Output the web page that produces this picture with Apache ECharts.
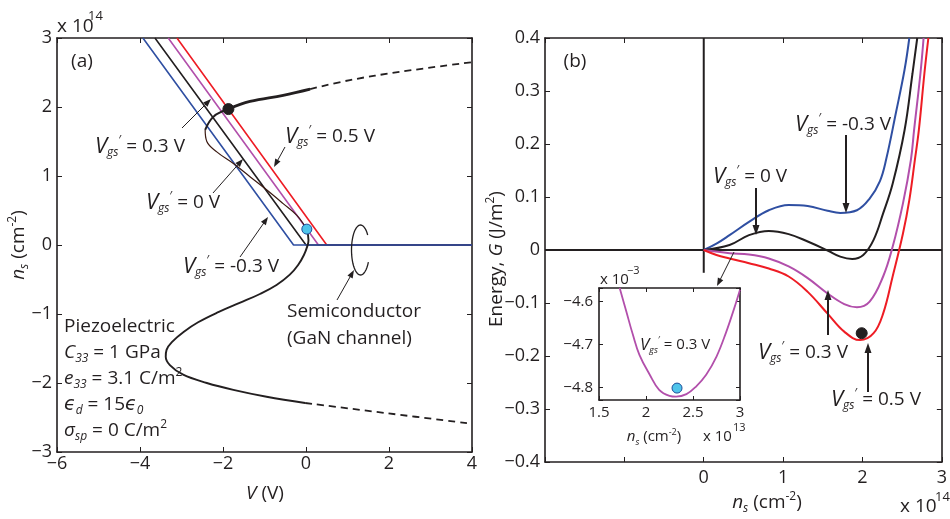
<!DOCTYPE html>
<html><head><meta charset="utf-8">
<script src="https://cdn.jsdelivr.net/npm/echarts@6/dist/echarts.min.js"></script>
<style>html,body{margin:0;padding:0;background:#fff}#c{width:950px;height:519px}</style>
</head><body><div id="c"></div>
<script>
// ---------- data ----------
// Panel (a): semiconductor lines n_s(V) for V_gs' = -0.3, 0, 0.3, 0.5 V  [V, n_s/1e14]
const semiBlue    = [[-3.93, 3], [-0.3, 0], [4, 0]];
const semiBlack   = [[-3.64, 3], [0.0, 0], [4, 0]];
const semiMagenta = [[-3.32, 3], [0.3, 0], [4, 0]];
const semiRed     = [[-3.11, 3], [0.5, 0], [4, 0]];
// Panel (a): piezoelectric S-curve [V, n_s/1e14]
const piezoUpper     = [[-1.87, 1.97], [-1.35, 2.08], [-0.55, 2.17], [0.1, 2.26]];
const piezoUpperDash = [[0.1, 2.26], [1.06, 2.39], [2.27, 2.51], [4.0, 2.65]];
const piezoLoopA     = [[-1.87, 1.97], [-2.23, 1.86], [-2.43, 1.67]];
const piezoLoopB     = [[-2.43, 1.67], [-2.39, 1.50], [-2.15, 1.35], [-1.75, 1.18], [-1.35, 0.99], [-0.95, 0.80], [-0.55, 0.60], [-0.22, 0.43], [-0.02, 0.27], [0.02, 0.23]];
const piezoLower     = [[0.02, 0.23], [0.06, 0.07], [0.03, -0.02], [-0.05, -0.145], [-0.19, -0.29], [-0.39, -0.43], [-0.71, -0.58], [-1.11, -0.71], [-1.6, -0.84], [-2.1, -0.97], [-2.6, -1.12], [-2.95, -1.26], [-3.22, -1.40], [-3.36, -1.52], [-3.38, -1.62], [-3.28, -1.74], [-2.96, -1.88], [-2.39, -2.00], [-1.75, -2.10], [-0.95, -2.20], [-0.02, -2.29]];
const piezoLowerDash = [[-0.02, -2.29], [1.98, -2.44], [4.0, -2.59]];
const dotBlackA = [[-1.87, 1.97]];
const dotBlueA  = [[0.02, 0.23]];
// Panel (b): energy G(n_s) [n_s/1e14, G J/m^2]
const gBlue    = [[0, 0], [0.16, 0.012], [0.325, 0.028], [0.57, 0.053], [0.82, 0.075], [1.07, 0.085], [1.31, 0.083], [1.56, 0.074], [1.72, 0.070], [1.93, 0.075], [2.09, 0.097], [2.22, 0.13], [2.30, 0.172], [2.42, 0.258], [2.53, 0.34], [2.59, 0.4]];
const gBlack   = [[0, 0], [0.325, 0.0094], [0.57, 0.028], [0.82, 0.036], [1.07, 0.030], [1.31, 0.016], [1.56, -0.001], [1.72, -0.0126], [1.87, -0.017], [2.01, -0.0094], [2.14, 0.019], [2.26, 0.069], [2.38, 0.125], [2.53, 0.226], [2.63, 0.333], [2.69, 0.4]];
const gMagenta = [[0, 0], [0.325, -0.006], [0.57, -0.0085], [0.82, -0.016], [1.07, -0.031], [1.31, -0.053], [1.56, -0.082], [1.77, -0.102], [1.93, -0.108], [2.09, -0.0975], [2.26, -0.05], [2.38, 0.006], [2.51, 0.088], [2.61, 0.17], [2.65, 0.226], [2.73, 0.333], [2.77, 0.4]];
const gRed     = [[0, 0], [0.16, -0.0094], [0.325, -0.016], [0.57, -0.025], [0.82, -0.035], [1.07, -0.050], [1.31, -0.079], [1.56, -0.12], [1.77, -0.154], [1.97, -0.170], [2.14, -0.157], [2.26, -0.12], [2.38, -0.05], [2.51, 0.031], [2.59, 0.094], [2.66, 0.17], [2.71, 0.226], [2.78, 0.333], [2.83, 0.4]];
const zeroH = [[-2, 0], [3, 0]];
const zeroV = [[0, -0.043], [0, 0.4]];
const dotBlackB = [[1.99, -0.157]];
// Inset: G(n_s) for V_gs' = 0.3 V  [n_s/1e13, G/1e-3]
const insetMagenta = [[1.72, -4.569], [1.79, -4.623], [1.86, -4.677], [1.93, -4.724], [2.04, -4.770], [2.14, -4.805], [2.25, -4.819], [2.32, -4.821], [2.43, -4.815], [2.53, -4.798], [2.64, -4.770], [2.75, -4.728], [2.85, -4.673], [2.94, -4.615], [3.0, -4.573]];
const insetDot = [[2.33, -4.801]];
// Tick labels
const aXTicks = [-6, -4, -2, 0, 2, 4],      aXLabels = ['−6', '−4', '−2', '0', '2', '4'];
const aYTicks = [-3, -2, -1, 0, 1, 2, 3],   aYLabels = ['−3', '−2', '−1', '0', '1', '2', '3'];
const bXTicks = [0, 1, 2, 3],               bXLabels = ['0', '1', '2', '3'];
const bYTicks = [-0.4, -0.3, -0.2, -0.1, 0, 0.1, 0.2, 0.3, 0.4];
const bYLabels = ['−0.4', '−0.3', '−0.2', '−0.1', '0', '0.1', '0.2', '0.3', '0.4'];
const iXTicks = [1.5, 2, 2.5, 3],           iXLabels = ['1.5', '2', '2.5', '3'];
const iYTicks = [-4.8, -4.7, -4.6],         iYLabels = ['−4.8', '−4.7', '−4.6'];

// ---------- styling ----------
const F = '"Open Sans","DejaVu Sans",sans-serif';
const C = '#231f20';
const BLUE = '#2f4fa2', MAG = '#b24fab', RED = '#ee1c24';

function fmtFrom(ticks, labels) {
  return function (v) {
    for (let i = 0; i < ticks.length; i++) if (Math.abs(ticks[i] - v) < 1e-6) return labels[i];
    return '';
  };
}
function axis(grid, pos, min, max, opt) {
  opt = opt || {};
  const a = {
    type: 'value', gridIndex: grid, position: pos, min: min, max: max,
    axisLine: { show: true, onZero: false, lineStyle: { color: C, width: opt.lw || 1.6 } },
    axisTick: { show: true, inside: true, length: opt.tl || 5, lineStyle: { color: C, width: 1 } },
    axisLabel: opt.fmt ? { show: true, formatter: opt.fmt, fontFamily: F, fontSize: opt.fs || 18, color: C, margin: opt.margin || 6 } : { show: false },
    splitLine: { show: false }
  };
  if (opt.interval !== undefined) a.interval = opt.interval;
  if (opt.split) { a.splitNumber = opt.split; a.minInterval = opt.mi; a.maxInterval = opt.mi; }
  return a;
}
function ln(data, xi, yi, color, width, extra) {
  return Object.assign({
    type: 'line', xAxisIndex: xi, yAxisIndex: yi, data: data, symbol: 'none', showSymbol: false,
    lineStyle: { color: color, width: width }, animation: false, silent: true
  }, extra || {});
}
function dot(data, xi, yi, color, border, size) {
  return { type: 'scatter', xAxisIndex: xi, yAxisIndex: yi, data: data, symbolSize: size, z: 5,
    itemStyle: { color: color, borderColor: border, borderWidth: 1, opacity: 1 }, animation: false, silent: true };
}

function rich(s) {
  const sub = Math.round(s * 0.62);
  return {
    i:   { fontFamily: F, fontSize: s, fontStyle: 'italic', fill: C },
    t:   { fontFamily: F, fontSize: s, fill: C },
    sub: { fontFamily: F, fontSize: sub, fontStyle: 'italic', fill: C, padding: [Math.round(s * 0.65), 0, 0, 0] },
    sup: { fontFamily: F, fontSize: sub, fill: C, padding: [0, 0, Math.round(s * 0.65), 0] },
    V:   { fontFamily: F, fontSize: Math.round(s * 1.15), fontStyle: 'italic', fill: C }
  };
}
function T(x, y, text, size, align, rot) {
  return { type: 'text', x: x, y: y, rotation: rot || 0, z: 100, silent: true,
    style: { text: text, x: 0, y: 0, fontFamily: F, fontSize: size, fill: C,
      align: align || 'left', verticalAlign: 'middle', rich: rich(size) } };
}
function A(x1, y1, x2, y2, w, hl, hw) {
  const a = Math.atan2(y2 - y1, x2 - x1), c = Math.cos(a), s = Math.sin(a);
  const bx = x2 - hl * c, by = y2 - hl * s;
  return [
    { type: 'line', z: 100, silent: true, shape: { x1: x1, y1: y1, x2: bx + 1 * c, y2: by + 1 * s }, style: { stroke: C, lineWidth: w } },
    { type: 'polygon', z: 100, silent: true, shape: { points: [[x2, y2], [bx + hw * s, by - hw * c], [bx - hw * s, by + hw * c]] }, style: { fill: C } }
  ];
}
const VG = v => '{V|V}{sub|gs}{sup|′}{t| = ' + v + ' V}';

// loop symbol (decoration)
const loopPts = [];
for (let k = 0; k <= 40; k++) {
  const t = (-37 - k * (294 / 40)) * Math.PI / 180;
  loopPts.push([360.5 + 9 * Math.cos(t), 250 + 25 * Math.sin(t)]);
}

const graphics = [].concat(
  [T(82, 62, '{t|(a)}', 19, 'center'),
   T(57, 27, '{t|x 10}', 19), T(88, 16, '{t|14}', 13),
   T(95, 147, VG('0.3'), 19),
   T(285, 137, VG('0.5'), 19),
   T(146, 203, VG('0'), 19),
   T(183, 267, VG('-0.3'), 19),
   T(287, 312, '{t|Semiconductor}', 19),
   T(287, 339, '{t|(GaN channel)}', 19),
   T(64, 327, '{t|Piezoelectric}', 19),
   T(64, 353, '{i|C}{sub|33}{t| = 1 GPa}', 19),
   T(64, 379, '{i|e}{sub|33}{t| = 3.1 C/m}{sup|2}', 19),
   T(64, 405, '{i|ϵ}{sub|d}{t| = 15}{i|ϵ}{sub|0}', 19),
   T(64, 431, '{i|σ}{sub|sp}{t| = 0 C/m}{sup|2}', 19),
   T(265, 494, '{i|V}{t| (V)}', 19, 'center'),
   T(19, 245, '{i|n}{sub|s}{t| (cm}{sup|-2}{t|)}', 19, 'center', Math.PI / 2),
   { type: 'polyline', z: 100, silent: true, shape: { points: loopPts }, style: { stroke: C, lineWidth: 1.3, fill: null } },
   T(575, 62, '{t|(b)}', 19, 'center'),
   T(795, 125, VG('-0.3'), 19),
   T(713, 177, VG('0'), 19),
   T(758, 353, VG('0.3'), 19),
   T(831, 400, VG('0.5'), 19),
   T(497, 259, '{t|Energy, }{i|G}{t| (J/m}{sup|2}{t|)}', 19, 'center', Math.PI / 2),
   T(767, 503, '{i|n}{sub|s}{t| (cm}{sup|-2}{t|)}', 19, 'center'),
   T(900, 507, '{t|x 10}', 19), T(935, 497, '{t|14}', 13),
   T(600, 280, '{t|x 10}', 15), T(627, 271, '{t|−3}', 11),
   T(640, 345, VG('0.3'), 15),
   T(654, 437, '{i|n}{sub|s}{t| (cm}{sup|-2}{t|)}', 15, 'center'),
   T(703, 437, '{t|x 10}', 15), T(733, 428, '{t|13}', 11)
  ],
  A(182, 128, 211, 99, 1, 8, 3),
  A(285, 147, 274, 167, 1, 8, 3),
  A(213, 193, 243, 159, 1, 8, 3),
  A(240, 257, 268, 217, 1, 8, 3),
  A(337, 300, 354, 270, 1, 8, 3),
  A(846, 135, 846, 213, 2, 10, 3.5),
  A(756, 188, 756, 235, 2, 10, 3.5),
  A(828, 335, 828, 290, 2, 10, 3.5),
  A(868, 392, 868, 343, 2, 10, 3.5),
  A(734, 252, 717, 286, 1, 8, 3)
);

const option = {
  backgroundColor: '#fff',
  animation: false,
  grid: [
    { left: 57, top: 38, width: 415, height: 414 },
    { left: 545, top: 38, width: 405, height: 424 },
    { left: 599, top: 288, width: 141, height: 112 }
  ],
  xAxis: [
    axis(0, 'bottom', -6, 4, { interval: 2, fmt: fmtFrom(aXTicks, aXLabels), margin: 3 }),
    axis(0, 'top', -6, 4, { interval: 2 }),
    axis(1, 'bottom', -2, 3, { interval: 1, fmt: fmtFrom(bXTicks, bXLabels), margin: 7 }),
    axis(1, 'top', -2, 3, { interval: 1 }),
    axis(2, 'bottom', 1.5, 3, { interval: 0.5, fmt: fmtFrom(iXTicks, iXLabels), fs: 15, margin: 5, tl: 4, lw: 1.6 }),
    axis(2, 'top', 1.5, 3, { interval: 0.5, tl: 4 })
  ],
  yAxis: [
    axis(0, 'left', -3, 3, { interval: 1, fmt: fmtFrom(aYTicks, aYLabels), margin: 5 }),
    axis(0, 'right', -3, 3, { interval: 1 }),
    axis(1, 'left', -0.4, 0.4, { interval: 0.1, fmt: fmtFrom(bYTicks, bYLabels), margin: 5 }),
    axis(1, 'right', -0.4, 0.4, { interval: 0.1 }),
    axis(2, 'left', -4.8286, -4.569, { split: 3, mi: 0.1, fmt: fmtFrom(iYTicks, iYLabels), fs: 15, margin: 6, tl: 4 }),
    axis(2, 'right', -4.8286, -4.569, { split: 3, mi: 0.1, tl: 4 })
  ],
  series: [
    ln(semiRed, 0, 0, RED, 1.6),
    ln(semiMagenta, 0, 0, MAG, 1.6),
    ln(semiBlack, 0, 0, C, 1.6),
    ln(semiBlue, 0, 0, BLUE, 1.6),
    ln(piezoUpper, 0, 0, C, 2.8, { smooth: 0.4 }),
    ln(piezoUpperDash, 0, 0, C, 1.8, { smooth: 0.4, lineStyle: { color: C, width: 1.8, type: [7, 5] } }),
    ln(piezoLoopA, 0, 0, C, 2, { smooth: 0.4 }),
    ln(piezoLoopB, 0, 0, '#3b1a12', 1.2, { smooth: 0.4 }),
    ln(piezoLower, 0, 0, C, 1.9, { smooth: 0.4 }),
    ln(piezoLowerDash, 0, 0, C, 1.8, { smooth: 0.4, lineStyle: { color: C, width: 1.8, type: [7, 5] } }),
    dot(dotBlackA, 0, 0, C, C, 11),
    dot(dotBlueA, 0, 0, '#4fc4ea', '#1f4e9a', 10),

    ln(zeroH, 2, 2, C, 2),
    ln(zeroV, 2, 2, C, 2),
    ln(gBlue, 2, 2, BLUE, 2, { smooth: 0.4 }),
    ln(gBlack, 2, 2, C, 2, { smooth: 0.4 }),
    ln(gMagenta, 2, 2, MAG, 2, { smooth: 0.4 }),
    ln(gRed, 2, 2, RED, 2, { smooth: 0.4 }),
    dot(dotBlackB, 2, 2, C, C, 11),

    ln(insetMagenta, 4, 4, MAG, 1.8, { smooth: 0.4 }),
    dot(insetDot, 4, 4, '#4fc4ea', '#1f4e9a', 10)
  ],
  graphic: graphics
};
const chart = echarts.init(document.getElementById('c'), null, { renderer: 'canvas' });
chart.setOption(option);
</script></body></html>
